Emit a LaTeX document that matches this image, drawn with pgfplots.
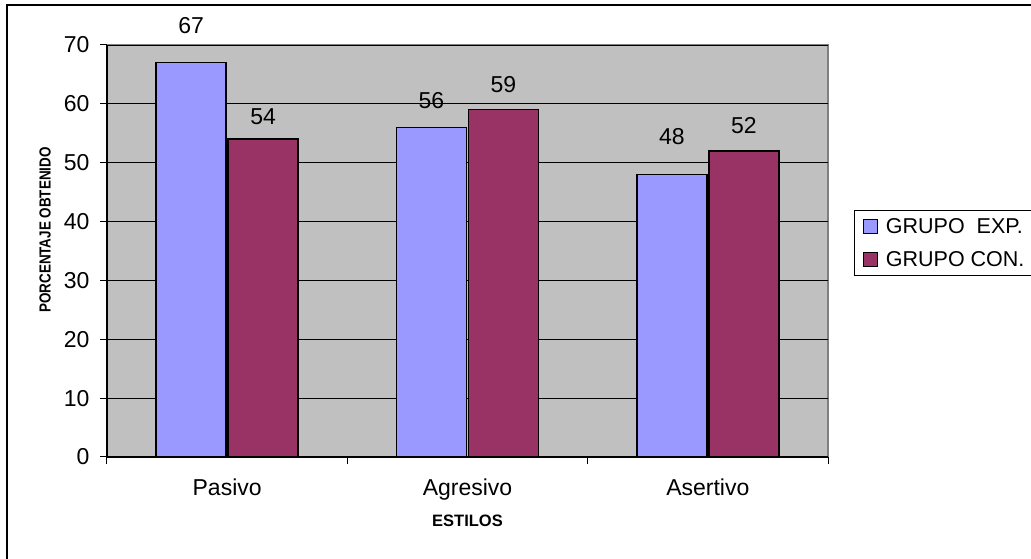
\documentclass[border=0pt]{standalone}
\usepackage{pgfplots}
\pgfplotsset{compat=1.18}
\usepackage{fontspec}
\setmainfont{Liberation Sans}

\definecolor{expblue}{HTML}{9999FF}
\definecolor{conmaroon}{HTML}{993366}
\definecolor{plotgray}{HTML}{C0C0C0}
\definecolor{edgegray}{HTML}{808080}

% x, value, gap between bar top and label (pt)
\pgfplotstableread{
x y off
0 67 29
1 56 19
2 48 30
}\expdata
\pgfplotstableread{
x y off
0 54 15
1 59 17
2 52 17
}\condata

\begin{document}
\begin{tikzpicture}
\useasboundingbox (0,0) rectangle (1031pt,559pt);
\clip (0,0) rectangle (1031pt,559pt);
% outer chart frame
\draw[black, line width=1.5pt] (7pt,-10pt) -- (7pt,554pt) -- (1045pt,554pt);
\begin{axis}[
  at={(107pt,102pt)}, anchor=south west,
  scale only axis, width=721pt, height=412pt,
  xmin=-0.5, xmax=2.5, ymin=0, ymax=70,
  ybar, bar width=70pt,
  axis background/.style={fill=plotgray, draw=edgegray, line width=1.5pt},
  axis x line*=bottom, axis y line*=left,
  axis line style={black, line width=1.2pt, -},
  xtick={0,1,2}, xticklabels={Pasivo,Agresivo,Asertivo},
  minor xtick={-0.5,0.5,1.5,2.5},
  major x tick style={draw=none},
  minor x tick style={black, line width=1pt},
  minor tick length=7pt,
  ytick={0,10,...,70},
  y tick style={black, line width=1pt},
  major tick length=7pt, tick align=outside,
  ymajorgrids, grid style={black, line width=0.9pt},
  /pgf/number format/assume math mode=true,
  tick label style={font=\fontsize{23}{27}\selectfont},
  xticklabel style={yshift=-11pt},
  yticklabel style={xshift=-7pt},
  xlabel={ESTILOS}, ylabel={PORCENTAJE OBTENIDO},
  xlabel style={font=\bfseries\fontsize{16.5}{19}\selectfont,
    at={(axis description cs:0.5,-0.155)}, anchor=center},
  ylabel style={font=\bfseries\fontsize{16}{19}\selectfont, xscale=0.84,
    at={(axis description cs:-0.086,0.551)}, anchor=center},
  nodes near coords,
  nodes near coords style={font=\fontsize{23}{27}\selectfont, anchor=base, inner sep=0pt, yshift=\off pt},
  visualization depends on={\thisrow{off} \as \off},
  legend image code/.code={\draw[#1, line width=1.2pt] (0pt,-7pt) rectangle (14pt,7pt);
    \path (22pt,0pt);},
  legend cell align=left,
  legend style={at={(axis description cs:1.036,0.5995)}, anchor=north west,
    draw=black, line width=1.2pt, fill=white,
    font=\fontsize{21.5}{25}\selectfont, row sep=12pt,
    inner xsep=8pt, inner ysep=6pt,
    nodes={inner xsep=0pt}},
]
\addplot[fill=expblue, draw=black, line width=1.5pt] table[x=x, y=y] {\expdata};
\addlegendentry{GRUPO\ \ EXP.\hspace*{40pt}}
\addplot[fill=conmaroon, draw=black, line width=1.5pt] table[x=x, y=y] {\condata};
\addlegendentry{GRUPO CON.\hspace*{40pt}}
\end{axis}
\end{tikzpicture}
\end{document}
